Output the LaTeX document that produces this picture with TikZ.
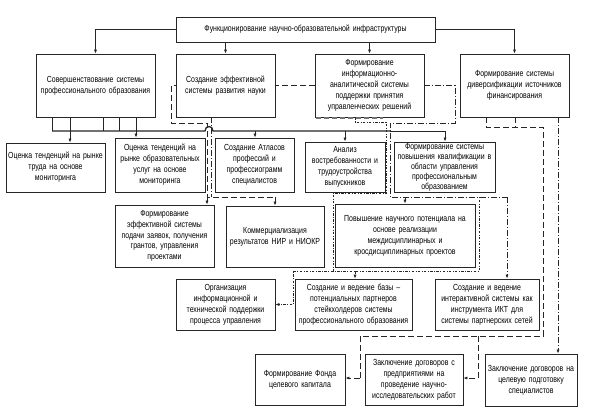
\documentclass[tikz,border=0pt]{standalone}
\usepackage{fontspec}
\setmainfont{Liberation Sans}[FakeStretch=0.79]
\usetikzlibrary{arrows.meta,backgrounds}
\newcommand{\fsz}{\fontsize{8.8}{11}\selectfont}
\begin{document}
\begin{tikzpicture}[x=1pt,y=-1pt,
  box/.style={draw=black!85, line width=0.75pt, fill=white, align=center, inner sep=0.5pt, font=\fsz},
  arr/.style={-{Latex[length=4pt,width=3pt]}},
  ln/.style={line width=0.7pt, draw=black!85},
  ldash/.style={ln, dash pattern=on 6pt off 3pt},
  ddot/.style={ln, dash pattern=on 6pt off 2pt on 1pt off 2pt},
  dots/.style={ln, line width=0.55pt, dash pattern=on 2.5pt off 1.5pt on 0.7pt off 1.5pt},
]
\useasboundingbox (0,0) rectangle (593,417);

% nodes
\node[box, minimum width=259, minimum height=25, text width=257] (top) at (305.5,29.5) {Функционирование научно-образовательной инфраструктуры};
\node[box, minimum width=119, minimum height=63, text width=117] (b1) at (95.5,85.5) {Совершенствование системы\\профессионального образования};
\node[box, minimum width=99, minimum height=63, text width=97] (b2) at (225.5,85.5) {Создание эффективной\\системы развития науки};
\node[box, minimum width=109, minimum height=63, text width=107] (b3) at (369.5,85.5) {Формирование\\информационно-\\аналитической системы\\поддержки принятия\\управленческих решений};
\node[box, minimum width=109, minimum height=63, text width=107] (b4) at (514.5,85.5) {Формирование системы\\диверсификации источников\\финансирования};

\node[box, minimum width=99, minimum height=49, text width=97] (c1) at (55.5,167.5) {Оценка тенденций на рынке\\труда на основе\\мониторинга};
\node[box, minimum width=90, minimum height=54, text width=88] (c2) at (160,165) {Оценка тенденций на\\рынке образовательных\\услуг на основе\\мониторинга};
\node[box, minimum width=79, minimum height=54, text width=77] (c3) at (254.5,165) {Создание Атласов\\профессий и\\профессиограмм\\специалистов};
\node[box, minimum width=80, minimum height=50, text width=78] (c4) at (345,167) {Анализ\\востребованности и\\трудоустройства\\выпускников};
\node[box, minimum width=101, minimum height=50, text width=99, font=\fontsize{8.8}{10}\selectfont] (c5) at (444.5,167) {Формирование системы\\повышения квалификации в\\области управления\\профессиональным\\образованием};

\node[box, minimum width=99, minimum height=62, text width=97, font=\fontsize{8.8}{10.6}\selectfont] (d1) at (164.5,236) {Формирование\\эффективной системы\\подачи заявок, получения\\грантов, управления\\проектами};
\node[box, minimum width=98, minimum height=61, text width=96] (d2) at (275,236.5) {Коммерциализация\\результатов НИР и НИОКР};
\node[box, minimum width=140, minimum height=63, text width=138] (d3) at (405,235.5) {Повышение научного потенциала на\\основе реализации\\междисциплинарных и\\кросдисциплинарных проектов};

\node[box, minimum width=99, minimum height=51, text width=97] (e1) at (225.5,304.5) {Организация\\информационной и\\технической поддержки\\процесса управления};
\node[box, minimum width=117, minimum height=51, text width=116] (e2) at (353.5,304.5) {Создание и ведение базы –\\потенциальных партнеров\\стейкхолдеров системы\\профессионального образования};
\node[box, minimum width=104, minimum height=51, text width=102] (e3) at (487,304.5) {Создание и ведение\\интерактивной системы как\\инструмента ИКТ для\\системы партнерских сетей};

\node[box, minimum width=90, minimum height=51, text width=88] (f1) at (300,379.5) {Формирование Фонда\\целевого капитала};
\node[box, minimum width=98, minimum height=51, text width=96] (f2) at (414,379.5) {Заключение договоров с\\предприятиями на\\проведение научно-\\исследовательских работ};
\node[box, minimum width=92, minimum height=52, text width=90] (f3) at (531,380) {Заключение договоров на\\целевую подготовку\\специалистов};

\begin{scope}[on background layer]
\fill[white] (0,0) rectangle (593,417);
% solid from top
\draw[ln,arr] (top.west) -| (b1.north);
\draw[ln,arr] (top.south -| b2.north) -- (b2.north);
\draw[ln,arr] (top.south -| b3.north) -- (b3.north);
\draw[ln,arr] (top.east) -| (b4.north);
% drops from b1 to bus
\foreach \xx in {52,70,103,119,136}{\draw[ln] (\xx,0 |- b1.south) -- (\xx,131);}
\draw[ln, line width=1.3pt] (52,131) -- (205,131) .. controls (205,125) and (213,125) .. (213,131) -- (390,131);
\draw[ln] (390,131) -- (445,131);
\draw[ln,arr] (70,131) -- (70,0 |- c1.north);
\draw[ln,arr] (136,131) -- (136,0 |- c2.north);
\draw[ln,arr] (255,131) -- (255,0 |- c3.north);
\draw[ln,arr] (345,131) -- (c4.north);
\draw[ln,arr] (445,131) -- (445,0 |- c5.north);
% dashed from b3 behind b2 to d1, d2
\draw[ldash] (b3.west) -- (171,85.5) -- (171,123) -- (207,123) -- (207,197) -- (275,197);
\draw[ldash,arr] (207,197) -- (207,0 |- d1.north);
\draw[ldash,arr] (275,197) -- (d2.north);
\draw[ddot] (211,0 |- b2.south) -- (211,197);
% dash-dot from b3 right
\draw[ddot] (b3.east) -- (455,85.5) -- (455,123) -- (390,123) -- (390,197) -- (507,197);
\draw[ddot,arr] (507,197) -- (507,0 |- e3.north);
\draw[ddot,arr] (405,197) -- (d3.north);
% dotted frame round d3
\draw[dots] (355,0 |- b3.south) -- (355,122) -- (386,122) -- (386,193) -- (333,193) -- (333,271) -- (479,271) -- (479,197);
\draw[dots,arr] (355,271) -- (355,0 |- e2.north);
\draw[dots,arr] (333,271) -- (293,271) |- (e1.east);
% from b4
\draw[ldash] (486,0 |- b4.south) -- (486,127) -- (543,127) -- (543,336) -- (360,336) -- (360,378);
\draw[ldash] (515,0 |- b4.south) -- (515,127);
\draw[ldash,arr] (360,378) -- (f1.east |- 0,378);
\draw[ldash,arr] (478,336) -- (478,378) -- (f2.east |- 0,378);
\draw[ddot,arr] (558,0 |- b4.south) -- (558,0 |- f3.north);
\end{scope}
% thick grey dashes along b3 bottom
\draw[black!55, line width=1.4pt, dash pattern=on 5pt off 3pt] (316,118) -- (383,118);
\end{tikzpicture}
\end{document}
